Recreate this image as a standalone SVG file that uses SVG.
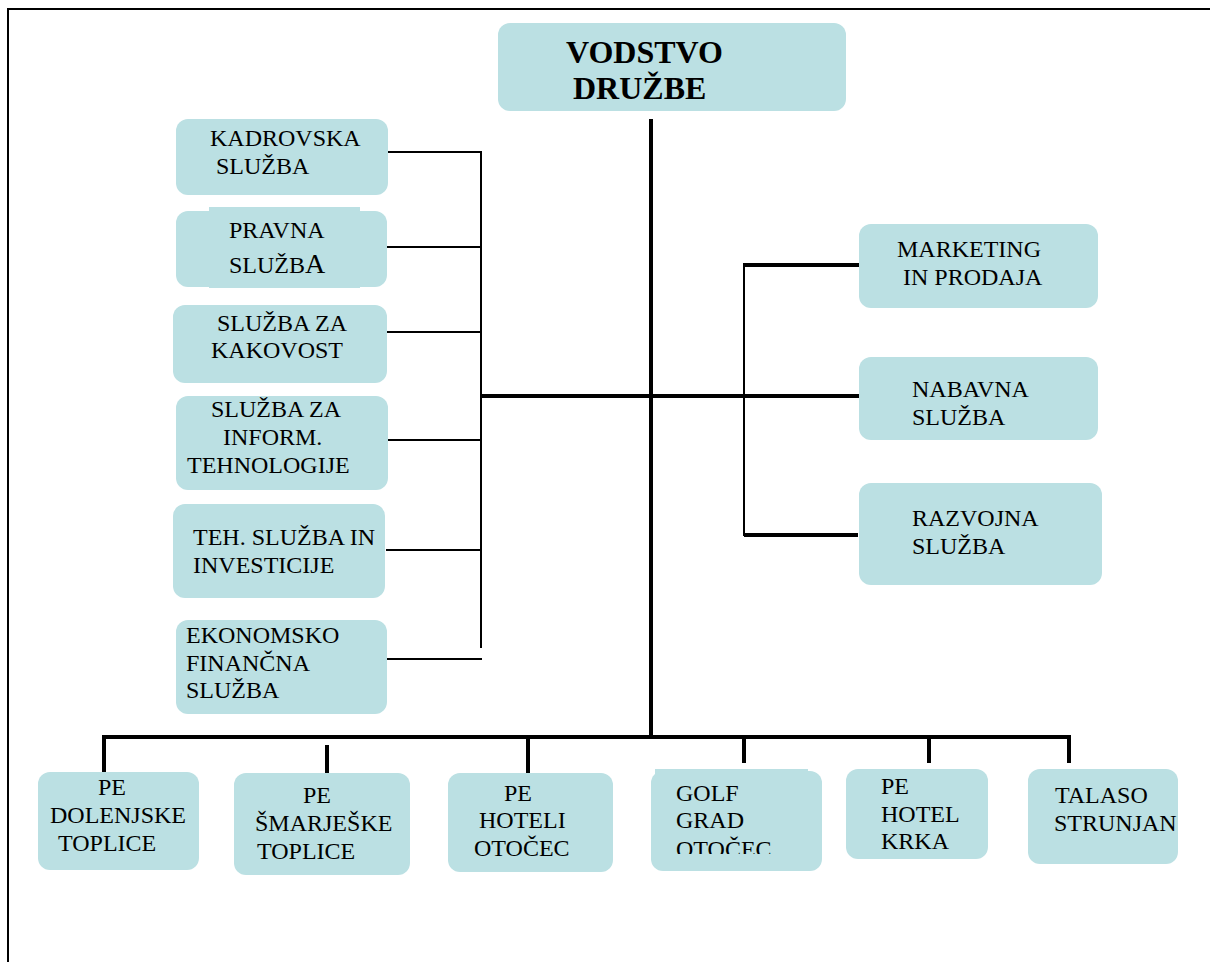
<svg xmlns="http://www.w3.org/2000/svg" width="1210" height="962" viewBox="0 0 1210 962">
<style>
.box{fill:#bbe0e3;}
.t{font-family:"Liberation Serif","Times New Roman",serif;font-size:24px;fill:#000;}
.tb{font-family:"Liberation Serif","Times New Roman",serif;font-size:32px;font-weight:bold;fill:#000;}
.thin{stroke:#000;stroke-width:2;fill:none;}
.thick{stroke:#000;stroke-width:4;fill:none;}
</style>
<defs>
<clipPath id="golfclip"><rect x="650" y="760" width="180" height="94"/></clipPath>
</defs>
<rect x="0" y="0" width="1210" height="962" fill="#fff"/>
<g id="frame">
<path class="thin" d="M8 962 V9 H1210"/>
</g>
<g id="connectors">
<line class="thick" x1="651" y1="119" x2="651" y2="739"/>
<line class="thick" x1="480" y1="396" x2="859" y2="396"/>
<line class="thin" x1="481" y1="151" x2="481" y2="648"/>
<line class="thin" x1="388" y1="152" x2="482" y2="152"/>
<line class="thin" x1="387" y1="247" x2="481" y2="247"/>
<line class="thin" x1="384" y1="332" x2="481" y2="332"/>
<line class="thin" x1="388" y1="440" x2="481" y2="440"/>
<line class="thin" x1="386" y1="550" x2="481" y2="550"/>
<line class="thin" x1="387" y1="659" x2="482" y2="659"/>
<line class="thin" x1="744" y1="263" x2="744" y2="536"/>
<line class="thick" x1="744" y1="265" x2="859" y2="265"/>
<line class="thick" x1="744" y1="535" x2="858" y2="535"/>
<line class="thick" x1="102" y1="737" x2="1071" y2="737"/>
<line class="thick" x1="104" y1="737" x2="104" y2="772"/>
<line class="thick" x1="327" y1="745" x2="327" y2="781"/>
<line class="thick" x1="528" y1="737" x2="528" y2="773"/>
<line class="thick" x1="744" y1="737" x2="744" y2="763"/>
<line class="thick" x1="929" y1="737" x2="929" y2="763"/>
<line class="thick" x1="1069" y1="737" x2="1069" y2="763"/>
</g>
<g id="vodstvo">
<rect class="box" x="498" y="23" width="348" height="88" rx="12"/>
<text class="tb" x="566" y="63">VODSTVO</text>
<text class="tb" x="573" y="99">DRUŽBE</text>
</g>
<g id="kadrovska">
<rect class="box" x="176" y="119" width="212" height="76" rx="12"/>
<text class="t" x="210" y="146">KADROVSKA</text>
<text class="t" x="216" y="174">SLUŽBA</text>
</g>
<g id="pravna">
<rect class="box" x="209" y="207" width="151" height="81"/>
<rect class="box" x="176" y="211" width="211" height="76" rx="12"/>
<text class="t" x="229" y="238">PRAVNA</text>
<text class="t" x="229" y="273" font-size="22">SLUŽB<tspan font-size="28">A</tspan></text>
</g>
<g id="kakovost">
<rect class="box" x="173" y="305" width="214" height="78" rx="12"/>
<text class="t" x="217" y="331">SLUŽBA ZA</text>
<text class="t" x="211" y="358">KAKOVOST</text>
</g>
<g id="informatika">
<rect class="box" x="176" y="396" width="212" height="94" rx="12"/>
<text class="t" x="211" y="417">SLUŽBA ZA</text>
<text class="t" x="223" y="445">INFORM.</text>
<text class="t" x="187" y="473">TEHNOLOGIJE</text>
</g>
<g id="tehnicna">
<rect class="box" x="173" y="504" width="212" height="94" rx="12"/>
<text class="t" x="193" y="545">TEH. SLUŽBA IN</text>
<text class="t" x="193" y="573">INVESTICIJE</text>
</g>
<g id="ekonomska">
<rect class="box" x="176" y="620" width="211" height="94" rx="12"/>
<text class="t" x="186" y="643">EKONOMSKO</text>
<text class="t" x="186" y="671">FINANČNA</text>
<text class="t" x="186" y="698">SLUŽBA</text>
</g>
<g id="marketing">
<rect class="box" x="859" y="224" width="239" height="84" rx="12"/>
<text class="t" x="897" y="257">MARKETING</text>
<text class="t" x="903" y="285">IN PRODAJA</text>
</g>
<g id="nabavna">
<rect class="box" x="859" y="357" width="239" height="83" rx="12"/>
<text class="t" x="912" y="397">NABAVNA</text>
<text class="t" x="912" y="425">SLUŽBA</text>
</g>
<g id="razvojna">
<rect class="box" x="859" y="483" width="243" height="102" rx="12"/>
<text class="t" x="912" y="526">RAZVOJNA</text>
<text class="t" x="912" y="554">SLUŽBA</text>
</g>
<g id="dolenjske">
<rect class="box" x="38" y="772" width="161" height="98" rx="12"/>
<text class="t" x="98" y="795">PE</text>
<text class="t" x="50" y="823">DOLENJSKE</text>
<text class="t" x="58" y="851">TOPLICE</text>
</g>
<g id="smarjeske">
<rect class="box" x="234" y="773" width="176" height="102" rx="12"/>
<text class="t" x="303" y="803">PE</text>
<text class="t" x="255" y="831">ŠMARJEŠKE</text>
<text class="t" x="257" y="859">TOPLICE</text>
</g>
<g id="otocec">
<rect class="box" x="448" y="773" width="165" height="99" rx="12"/>
<text class="t" x="504" y="801">PE</text>
<text class="t" x="479" y="828">HOTELI</text>
<text class="t" x="474" y="856">OTOČEC</text>
</g>
<g id="golf">
<rect class="box" x="655" y="769" width="153" height="20"/>
<rect class="box" x="651" y="771" width="171" height="100" rx="12"/>
<g clip-path="url(#golfclip)">
<text class="t" x="676" y="801">GOLF</text>
<text class="t" x="676" y="828">GRAD</text>
<text class="t" x="676" y="857">OTOČEC</text>
</g>
</g>
<g id="krka">
<rect class="box" x="846" y="769" width="142" height="90" rx="12"/>
<text class="t" x="881" y="794">PE</text>
<text class="t" x="881" y="822">HOTEL</text>
<text class="t" x="881" y="849">KRKA</text>
</g>
<g id="talaso">
<rect class="box" x="1028" y="769" width="150" height="95" rx="12"/>
<text class="t" x="1055" y="803">TALASO</text>
<text class="t" x="1054" y="831">STRUNJAN</text>
</g>
</svg>
